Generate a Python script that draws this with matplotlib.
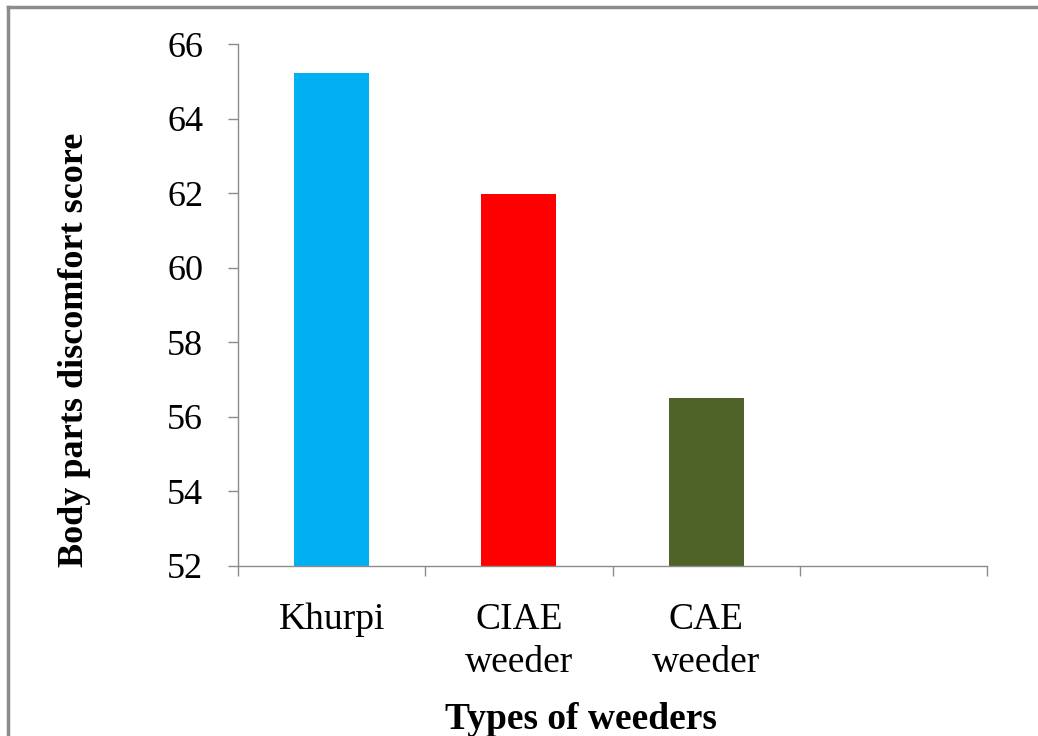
import matplotlib
matplotlib.use("Agg")
import matplotlib.pyplot as plt
from matplotlib.lines import Line2D

# data
categories = ["Khurpi", "CIAE\nweeder", "CAE\nweeder", ""]
scores = [65.22, 61.98, 56.51]
bar_colors = ["#00B0F0", "#FF0000", "#4F6228"]
y_ticks = [52, 54, 56, 58, 60, 62, 64, 66]

plt.rcParams['font.family'] = ['Liberation Serif', 'DejaVu Serif']

fig = plt.figure(figsize=(10.38, 7.36), dpi=100)
ax = fig.add_axes([0.2293, 0.2310, 0.7216, 0.7092])

x = list(range(len(scores)))
ax.bar(x, scores, width=0.4, color=bar_colors, zorder=2)

ax.set_xlim(-0.5, len(categories) - 0.5)
ax.set_ylim(52, 66)
ax.set_yticks(y_ticks)
ax.set_yticklabels([str(t) for t in y_ticks], fontsize=26)

# category labels centred in slots, ticks on the slot borders
ax.set_xticks(range(len(categories)))
ax.set_xticklabels(categories, fontsize=27, linespacing=1.35, va='top')
ax.tick_params(axis='x', which='major', length=0, pad=26)
ax.set_xticks([i - 0.5 for i in range(len(categories) + 1)], minor=True)
ax.tick_params(axis='x', which='minor', length=7, color='#8c8c8c', width=1)
ax.tick_params(axis='y', length=7, color='#8c8c8c', width=1, pad=18)

for side in ['top', 'right']:
    ax.spines[side].set_visible(False)
for side in ['left', 'bottom']:
    ax.spines[side].set_color('#8c8c8c')
    ax.spines[side].set_linewidth(1)

ax.set_ylabel("Body parts discomfort score", fontsize=26, fontweight='bold',
              va='center', ha='center')
ax.yaxis.set_label_coords(-0.218, 0.414)
ax.set_xlabel("Types of weeders", fontsize=27, fontweight='bold', va='baseline')
ax.xaxis.set_label_coords(0.458, -0.312)

# frame around chart (left and top edges visible)
fig.add_artist(Line2D([8 / 1038, 8 / 1038], [0, 1 - 7 / 736], color='#8c8c8c', lw=2.5,
                      transform=fig.transFigure))
fig.add_artist(Line2D([8 / 1038, 1], [1 - 7 / 736, 1 - 7 / 736], color='#8c8c8c', lw=2.5,
                      transform=fig.transFigure))

fig.savefig("out.png", dpi=100, facecolor='white')
